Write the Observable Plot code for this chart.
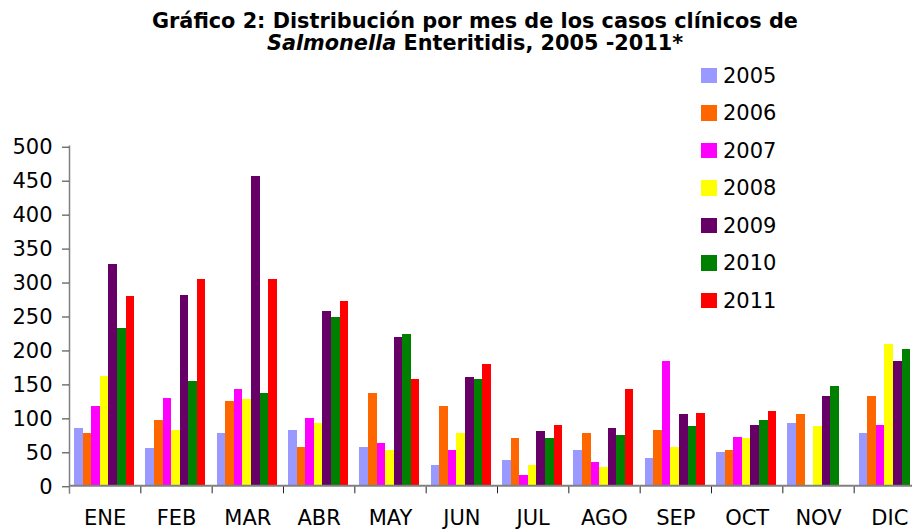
<!DOCTYPE html>
<html>
<head>
<meta charset="utf-8">
<script src="https://cdn.jsdelivr.net/npm/d3@7"></script>
<script src="https://cdn.jsdelivr.net/npm/@observablehq/plot@0.6"></script>
<style>
  html, body { margin: 0; padding: 0; background: #fff; overflow: hidden; }
  body { width: 912px; height: 531px; position: relative; font-family: "DejaVu Sans", sans-serif; color: #000; }
  #chart { position: absolute; left: 0; top: 0; width: 925px; }
  #chart svg { max-width: none !important; }
  #title { position: absolute; left: 0; width: 950px; top: 9.7px; text-align: center; font-weight: bold; font-size: 20.8px; line-height: 22px; }
  .lg-sw { position: absolute; width: 15.5px; height: 15.5px; }
  .lg-tx { position: absolute; font-size: 21px; line-height: 24.4px; white-space: nowrap; }
</style>
</head>
<body>
<div id="chart"></div>
<div id="title">Gráfico 2: Distribución por mes de los casos clínicos de<br><i>Salmonella</i> Enteritidis, 2005 -2011*</div>
<div id="legend"></div>
<script>
const months = ["ENE","FEB","MAR","ABR","MAY","JUN","JUL","AGO","SEP","OCT","NOV","DIC"];
const years = ["2005","2006","2007","2008","2009","2010","2011"];
const colors = ["#9999FF","#FF6600","#FF00FF","#FFFF00","#660066","#008000","#FF0000"];
const yTicks = [0,50,100,150,200,250,300,350,400,450,500];

const v2005 = [85, 55, 77, 81, 56, 30, 37, 52, 40, 49, 92, 77];
const v2006 = [77, 96, 124, 56, 136, 117, 70, 77, 81, 52, 105, 131];
const v2007 = [117, 129, 142, 99, 62, 52, 15, 34, 183, 71, null, 89];
const v2008 = [161, 81, 127, 92, 52, 77, 30, 27, 56, 70, 87, 208];
const v2009 = [326, 280, 455, 257, 218, 159, 80, 84, 105, 89, 131, 183];
const v2010 = [232, 154, 136, 248, 223, 157, 70, 74, 87, 96, 146, 200];
const v2011 = [279, 304, 304, 271, 157, 179, 89, 142, 106, 109, null, null];

const series = [v2005, v2006, v2007, v2008, v2009, v2010, v2011];
const data = years.flatMap((yr, i) => months.map((m, j) => ({month: m, year: yr, value: series[i][j]})));

const W = 925, H = 531, mTop = 145.7, mBottom = 45.7;
const plotH = H - mTop - mBottom;

const chart = Plot.plot({
  width: W, height: H,
  marginTop: mTop, marginBottom: mBottom, marginLeft: 69, marginRight: 0,
  style: {fontFamily: "DejaVu Sans", fontSize: "21px", color: "#000", background: "transparent", overflow: "visible", maxWidth: "none"},
  fx: {domain: months, padding: 0, round: false, label: null},
  x: {domain: years, paddingInner: 0, paddingOuter: 0.66, align: 0.45, round: false, axis: null},
  y: {domain: [0, 500], label: null},
  color: {domain: years, range: colors},
  marks: [
    Plot.frame({anchor: "left", stroke: "#222", insetTop: plotH, insetBottom: -7}),
    Plot.barY(data, {fx: "month", x: "year", y: "value", fill: "year", inset: 0, shapeRendering: "crispEdges"}),
    Plot.ruleY([0], {stroke: "#808080", strokeWidth: 2}),
    Plot.frame({anchor: "left", facetAnchor: "left", stroke: "#808080", strokeWidth: 1.5, insetBottom: -7}),
    Plot.axisY({ticks: yTicks, tickSize: 7, tickPadding: 10, stroke: "#333", fontSize: 21, dy: 1, label: null}),
    Plot.axisFx({anchor: "bottom", tickSize: 0, tickPadding: 24, fontSize: 21, label: null})
  ]
});
document.getElementById("chart").appendChild(chart);

const legend = d3.select("#legend");
const rowStart = 75.6, rowStep = 37.5;
years.forEach((yr, i) => {
  const c = rowStart + i * rowStep;
  legend.append("div").attr("class", "lg-sw")
    .style("left", "701px").style("top", (c - 7.75) + "px").style("background", colors[i]);
  legend.append("div").attr("class", "lg-tx")
    .style("left", "723px").style("top", (c - 11.8) + "px").text(yr);
});
</script>
</body>
</html>
